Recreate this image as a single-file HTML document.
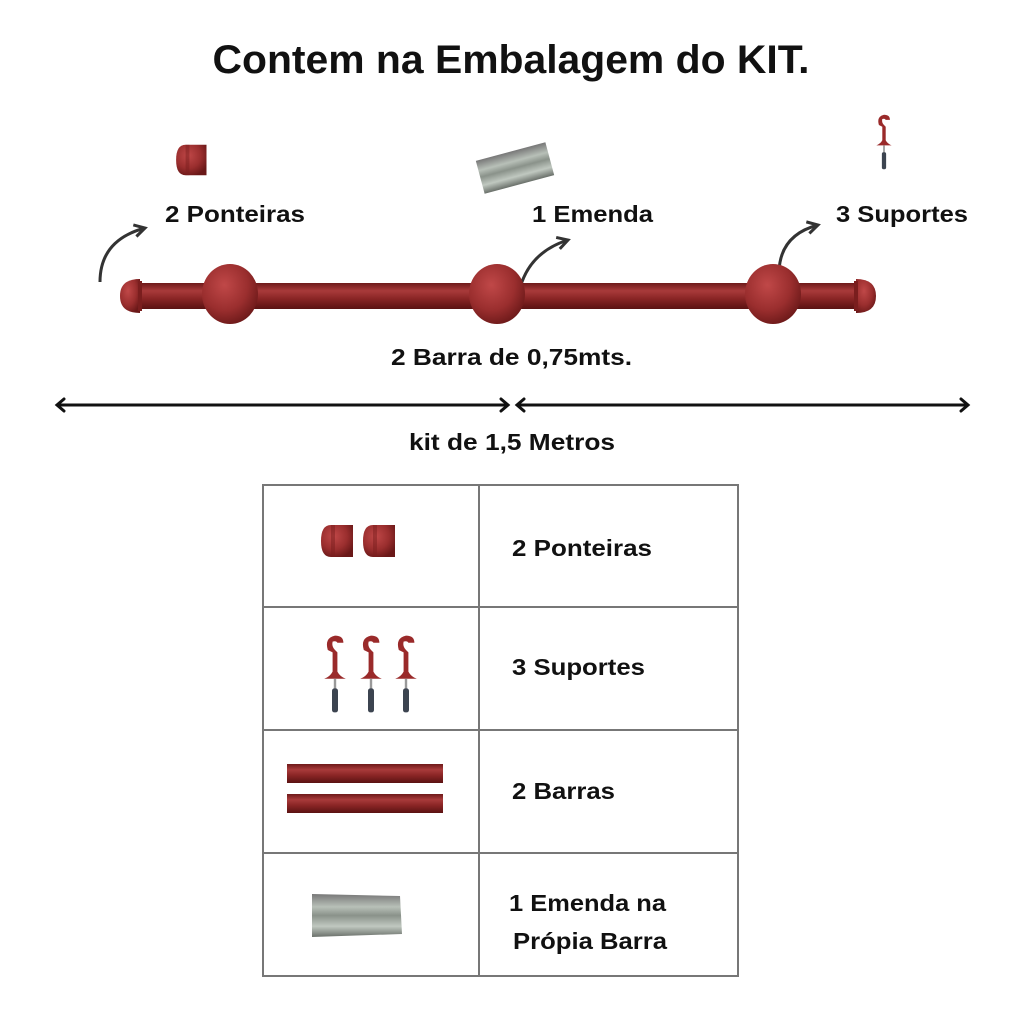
<!DOCTYPE html>
<html><head><meta charset="utf-8"><style>
html,body{margin:0;padding:0;background:#fff;}
svg{display:block;}
text{font-family:"Liberation Sans",sans-serif;font-weight:bold;fill:#111;}
</style></head><body>
<svg width="1024" height="1024" viewBox="0 0 1024 1024" xmlns="http://www.w3.org/2000/svg">
<defs>
<linearGradient id="rod" x1="0" y1="0" x2="0" y2="1">
<stop offset="0" stop-color="#6e1a1a"/><stop offset="0.3" stop-color="#a83a3a"/><stop offset="0.6" stop-color="#8a2525"/><stop offset="1" stop-color="#5a1212"/>
</linearGradient>
<radialGradient id="ball" cx="0.4" cy="0.35" r="0.7">
<stop offset="0" stop-color="#c04848"/><stop offset="0.6" stop-color="#9a2e2e"/><stop offset="1" stop-color="#6a1818"/>
</radialGradient>
<linearGradient id="steel" x1="0" y1="0" x2="0" y2="1">
<stop offset="0" stop-color="#777"/><stop offset="0.3" stop-color="#b8c0b8"/><stop offset="0.5" stop-color="#8a928a"/><stop offset="0.75" stop-color="#c0c8c0"/><stop offset="1" stop-color="#6a706a"/>
</linearGradient>
<marker id="ah" viewBox="0 0 10 10" refX="8" refY="5" markerWidth="5" markerHeight="5" orient="auto"><path d="M1,1 L8,5 L1,9" fill="none" stroke="#333" stroke-width="2"/></marker>
<g id="cap"><path d="M-12,-16 Q-22,-16 -22,0 Q-22,16 -12,16 L10,16 L10,-16 Z" fill="url(#ball)"/><rect x="-12" y="-16" width="4" height="32" fill="#7a1e1e" opacity="0.5"/></g>
<g id="sup"><path d="M-6,0 Q-9,-10 0,-12 Q7,-12 7,-6 L2,-6 Q1,-8 -2,-7 Q-3,-3 0,0 L2,2 L2,18 Q4,22 9,24 L-9,24 Q-4,22 -2,18 L-2,2 Z" fill="#9a2a2a"/><rect x="-1" y="24" width="2" height="10" fill="#999"/><rect x="-2.5" y="32" width="5" height="20" rx="2" fill="#3c4450"/></g>
</defs>

<text x="511" y="73" font-size="40" text-anchor="middle" textLength="597" lengthAdjust="spacingAndGlyphs">Contem na Embalagem do KIT.</text>

<use href="#cap" transform="translate(197,160) scale(0.95)"/>
<g transform="translate(515,168) rotate(-15)"><rect x="-36" y="-17" width="72" height="34" fill="url(#steel)"/></g>
<use href="#sup" transform="translate(884,125) scale(0.85)"/>

<text x="165" y="222" font-size="23" textLength="140" lengthAdjust="spacingAndGlyphs">2 Ponteiras</text>
<text x="532" y="222" font-size="23" textLength="121" lengthAdjust="spacingAndGlyphs">1 Emenda</text>
<text x="836" y="222" font-size="23" textLength="132" lengthAdjust="spacingAndGlyphs">3 Suportes</text>

<path d="M100,282 Q100,240 145,228" fill="none" stroke="#333" stroke-width="3" marker-end="url(#ah)"/>
<path d="M520,288 Q530,252 568,240" fill="none" stroke="#333" stroke-width="3" marker-end="url(#ah)"/>
<path d="M779,272 Q780,235 818,225" fill="none" stroke="#333" stroke-width="3" marker-end="url(#ah)"/>

<rect x="130" y="283" width="738" height="26" fill="url(#rod)"/>
<g transform="translate(128,296)"><path d="M12,-17 Q-8,-17 -8,0 Q-8,17 12,17 Z" fill="url(#ball)"/><rect x="10" y="-15" width="4" height="30" fill="#7a1e1e"/></g>
<g transform="translate(868,296)"><path d="M-12,-17 Q8,-17 8,0 Q8,17 -12,17 Z" fill="url(#ball)"/><rect x="-14" y="-15" width="4" height="30" fill="#7a1e1e"/></g>
<ellipse cx="230" cy="294" rx="28" ry="30" fill="url(#ball)"/>
<ellipse cx="497" cy="294" rx="28" ry="30" fill="url(#ball)"/>
<ellipse cx="773" cy="294" rx="28" ry="30" fill="url(#ball)"/>

<text x="391" y="365" font-size="23" textLength="241" lengthAdjust="spacingAndGlyphs">2 Barra de 0,75mts.</text>

<g stroke="#111" stroke-width="3" fill="none" stroke-linecap="round">
<line x1="58" y1="405" x2="507" y2="405"/><path d="M64,399 L57,405 L64,411"/><path d="M501,399 L508,405 L501,411"/>
<line x1="518" y1="405" x2="967" y2="405"/><path d="M524,399 L517,405 L524,411"/><path d="M961,399 L968,405 L961,411"/>
</g>
<text x="409" y="450" font-size="23" textLength="206" lengthAdjust="spacingAndGlyphs">kit de 1,5 Metros</text>

<g stroke="#777" stroke-width="2" fill="none">
<rect x="263" y="485" width="475" height="491"/>
<line x1="479" y1="485" x2="479" y2="976"/>
<line x1="263" y1="607" x2="738" y2="607"/>
<line x1="263" y1="730" x2="738" y2="730"/>
<line x1="263" y1="853" x2="738" y2="853"/>
</g>
<use href="#cap" transform="translate(343,541)"/>
<use href="#cap" transform="translate(385,541)"/>
<use href="#sup" transform="translate(335,650) scale(1.2)"/>
<use href="#sup" transform="translate(371,650) scale(1.2)"/>
<use href="#sup" transform="translate(406,650) scale(1.2)"/>
<rect x="287" y="764" width="156" height="19" fill="url(#rod)"/>
<rect x="287" y="794" width="156" height="19" fill="url(#rod)"/>
<path d="M312,894 L400,896 L402,934 L312,937 Z" fill="url(#steel)"/>

<text x="512" y="556" font-size="23" textLength="140" lengthAdjust="spacingAndGlyphs">2 Ponteiras</text>
<text x="512" y="675" font-size="23" textLength="133" lengthAdjust="spacingAndGlyphs">3 Suportes</text>
<text x="512" y="799" font-size="23" textLength="103" lengthAdjust="spacingAndGlyphs">2 Barras</text>
<text x="509" y="911" font-size="23" textLength="157" lengthAdjust="spacingAndGlyphs">1 Emenda na</text>
<text x="513" y="949" font-size="23" textLength="154" lengthAdjust="spacingAndGlyphs">Própia Barra</text>
</svg>
</body></html>
